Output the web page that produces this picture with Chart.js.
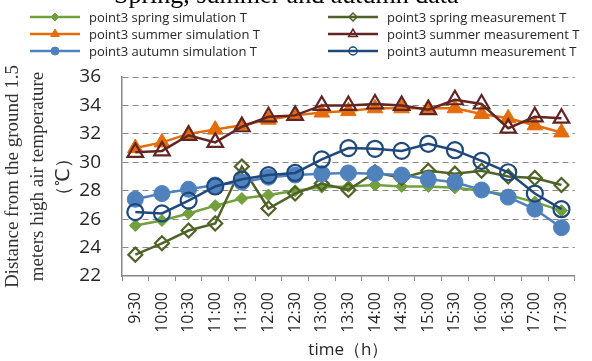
<!DOCTYPE html>
<html>
<head>
<meta charset="utf-8">
<script src="https://cdn.jsdelivr.net/npm/chart.js@4.4.1/dist/chart.umd.min.js"></script>
<style>
  html, body { margin: 0; padding: 0; background: #fff; }
  #wrap { width: 592px; height: 361px; position: relative; }
</style>
</head>
<body>
<div id="wrap"><canvas id="tempChart" width="592" height="361"></canvas></div>
<script>
// time of day
const times = ['9:30', '10:00', '10:30', '11:00', '11:30', '12:00', '12:30', '13:00', '13:30',
               '14:00', '14:30', '15:00', '15:30', '16:00', '16:30', '17:00', '17:30'];

// air temperature at 1.5 m (°C)
const springSim  = [25.55, 25.9, 26.4, 26.95, 27.45, 27.7, 28.0, 28.25, 28.3, 28.4, 28.3, 28.3, 28.2, 28.0, 27.7, 27.2, 26.6];
const springMeas = [23.5, 24.3, 25.2, 25.7, 29.7, 26.75, 27.8, 28.5, 28.05, 29.3, 28.9, 29.4, 29.2, 29.4, 29.0, 28.9, 28.4];
const summerSim  = [31.0, 31.4, 32.0, 32.3, 32.6, 33.0, 33.3, 33.5, 33.6, 33.8, 33.8, 33.8, 33.8, 33.4, 33.1, 32.6, 32.1];
const summerMeas = [30.7, 30.8, 31.9, 31.4, 32.5, 33.2, 33.3, 34.0, 34.0, 34.1, 34.0, 33.7, 34.4, 34.1, 32.4, 33.2, 33.1];
const autumnSim  = [27.4, 27.8, 28.1, 28.4, 28.6, 28.95, 29.1, 29.2, 29.25, 29.2, 29.1, 28.8, 28.6, 28.05, 27.55, 26.7, 25.4];
const autumnMeas = [26.5, 26.4, 27.3, 28.3, 28.8, 29.1, 29.25, 30.2, 31.0, 30.95, 30.8, 31.3, 30.85, 30.1, 29.3, 27.8, 26.7];

const yMin = 22, yMax = 36, yStep = 2;

function series(label, data, color, style, radius, hollow, order) {
    return {
        label: label,
        data: data,
        order: order,   // later series sit on top, as in the source
        borderColor: color,
        backgroundColor: color,
        borderWidth: 2.5,
        pointStyle: style,
        pointRadius: radius,
        pointBorderColor: color,
        pointBackgroundColor: hollow ? 'rgba(255,255,255,0)' : color,
        pointBorderWidth: hollow ? 2.2 : 1,
        tension: 0,
        fill: false
    };
}

// legend drawn in two fixed columns like the original
const legendPlugin = {
    id: 'twoColLegend',
    afterDraw(chart) {
        const ctx = chart.ctx;
        const cols = [30, 328];
        const rows = [17, 34, 51];
        ctx.save();
        ctx.font = '13px "Open Sans", sans-serif';
        ctx.textBaseline = 'middle';
        ctx.fillStyle = '#262626';
        chart.data.datasets.forEach((ds, i) => {
            const x = cols[i % 2];
            const y = rows[Math.floor(i / 2)];
            ctx.strokeStyle = ds.borderColor;
            ctx.lineWidth = 2.5;
            ctx.beginPath();
            ctx.moveTo(x, y);
            ctx.lineTo(x + 50, y);
            ctx.stroke();
            if (Chart.helpers && Chart.helpers.drawPoint) {
                ctx.fillStyle = ds.pointBackgroundColor;
                ctx.strokeStyle = ds.pointBorderColor;
                ctx.lineWidth = ds.pointBorderWidth > 1 ? 1.5 : 1;
                Chart.helpers.drawPoint(ctx, {
                    pointStyle: ds.pointStyle,
                    radius: ds.pointStyle === 'triangle' ? 5 : 4,
                    rotation: 0,
                    borderWidth: ds.pointBorderWidth > 1 ? 1.5 : 1
                }, x + 25, y);
            }
            ctx.fillStyle = '#262626';
            ctx.fillText(ds.label, x + 59, y + 1);
        });
        // cropped heading at the very top of the figure
        ctx.font = '26px "Liberation Serif", serif';
        ctx.textBaseline = 'alphabetic';
        ctx.fillStyle = '#000';
        ctx.fillText('Spring, summer and autumn data', 114, 3);
        ctx.restore();
    }
};

new Chart(document.getElementById('tempChart'), {
    type: 'line',
    data: {
        labels: times,
        datasets: [
            series('point3 spring simulation T', springSim, '#72a03c', 'rectRot', 6, false, 5),
            series('point3 spring measurement T', springMeas, '#4f6228', 'rectRot', 7, true, 4),
            series('point3 summer simulation T', summerSim, '#e46c0a', 'triangle', 9, false, 3),
            series('point3 summer measurement T', summerMeas, '#632523', 'triangle', 9, true, 2),
            series('point3 autumn simulation T', autumnSim, '#4f81bd', 'circle', 8, false, 1),
            series('point3 autumn measurement T', autumnMeas, '#1f497d', 'circle', 8, true, 0)
        ]
    },
    options: {
        responsive: false,
        animation: false,
        devicePixelRatio: 1,
        layout: { padding: { top: 77, right: 3, left: 0, bottom: 0 } },
        plugins: {
            legend: { display: false },
            tooltip: { enabled: false },
            title: { display: false }
        },
        scales: {
            y: {
                min: yMin,
                max: yMax,
                afterFit: s => { s.width = 122; },
                ticks: {
                    stepSize: yStep,
                    padding: 21,
                    color: '#262626',
                    font: { family: '"Open Sans", sans-serif', size: 19 }
                },
                grid: {
                    drawTicks: false,
                    color: ctx => ctx.tick && ctx.tick.value === yMin ? 'rgba(0,0,0,0)' : '#878787',
                    lineWidth: 1
                },
                // in v4 border.dash sets the dash of the gridlines
                border: { display: true, color: '#878787', width: 1.5, dash: [6, 4] },
                title: {
                    display: true,
                    text: ['Distance from the ground 1.5', 'meters high air temperature', '（℃）'],
                    color: '#333',
                    padding: { top: 0, bottom: 0 },
                    font: { family: '"Liberation Serif", serif', size: 19, lineHeight: 1.35 }
                }
            },
            x: {
                offset: true,
                afterFit: s => { s.height = 85; },
                ticks: {
                    minRotation: 90,
                    maxRotation: 90,
                    autoSkip: false,
                    padding: 11,
                    color: '#262626',
                    font: { family: '"Open Sans", sans-serif', size: 16 }
                },
                grid: {
                    offset: true,
                    drawOnChartArea: false,
                    drawTicks: true,
                    tickLength: 5,
                    color: '#878787'
                },
                border: { display: true, color: '#878787', width: 1.5 },
                title: {
                    display: true,
                    text: 'time（h）',
                    color: '#262626',
                    padding: { top: 0, bottom: 1 },
                    font: { family: '"Open Sans", sans-serif', size: 17, lineHeight: 1.2 }
                }
            }
        }
    },
    plugins: [legendPlugin]
});
</script>
</body>
</html>
